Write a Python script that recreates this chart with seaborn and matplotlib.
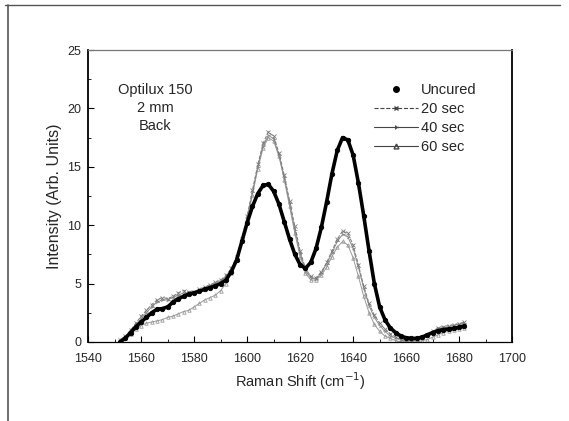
import matplotlib
matplotlib.use("Agg")
import matplotlib.pyplot as plt
from matplotlib.lines import Line2D
from matplotlib.ticker import MultipleLocator
import seaborn as sns
import pandas as pd

shift = [1552, 1554, 1556, 1558, 1560, 1562, 1564, 1566, 1568, 1570,
         1572, 1574, 1576, 1578, 1580, 1582, 1584, 1586, 1588, 1590,
         1592, 1594, 1596, 1598, 1600, 1602, 1604, 1606, 1608, 1610,
         1612, 1614, 1616, 1618, 1620, 1622, 1624, 1626, 1628, 1630,
         1632, 1634, 1636, 1638, 1640, 1642, 1644, 1646, 1648, 1650,
         1652, 1654, 1656, 1658, 1660, 1662, 1664, 1666, 1668, 1670,
         1672, 1674, 1676, 1678, 1680, 1682]

uncured = [0.0, 0.3, 0.8, 1.3, 1.7, 2.1, 2.5, 2.8, 2.85, 3.0,
           3.4, 3.7, 3.9, 4.1, 4.2, 4.35, 4.5, 4.65, 4.8, 5.0,
           5.3, 6.0, 7.0, 8.6, 10.2, 11.6, 12.7, 13.4, 13.5, 12.9,
           11.8, 10.3, 8.8, 7.5, 6.6, 6.3, 6.8, 8.0, 9.8, 12.0,
           14.4, 16.4, 17.5, 17.3, 16.0, 13.6, 10.8, 7.8, 5.0, 3.0,
           1.9, 1.2, 0.8, 0.5, 0.35, 0.3, 0.3, 0.4, 0.6, 0.8,
           0.95, 1.05, 1.1, 1.15, 1.25, 1.35]

sec20 = [0.2, 0.5, 1.0, 1.6, 2.2, 2.7, 3.2, 3.6, 3.8, 3.7,
         3.9, 4.2, 4.4, 4.3, 4.3, 4.5, 4.7, 4.9, 5.1, 5.3,
         5.7, 6.3, 7.3, 8.8, 10.8, 13.0, 15.2, 17.0, 18.0, 17.6,
         16.2, 14.3, 12.1, 9.9, 7.8, 6.3, 5.6, 5.5, 6.0, 6.8,
         7.8, 8.8, 9.5, 9.3, 8.3, 6.6, 4.8, 3.3, 2.3, 1.6,
         1.1, 0.7, 0.4, 0.25, 0.15, 0.1, 0.2, 0.4, 0.6, 0.9,
         1.2, 1.3, 1.4, 1.45, 1.55, 1.7]

sec40 = [0.1, 0.4, 0.9, 1.4, 2.0, 2.5, 3.0, 3.4, 3.6, 3.6,
         3.8, 4.0, 4.2, 4.2, 4.3, 4.4, 4.6, 4.8, 5.0, 5.2,
         5.6, 6.2, 7.2, 8.7, 10.6, 12.8, 15.0, 16.8, 17.7, 17.4,
         16.0, 14.1, 11.9, 9.6, 7.6, 6.1, 5.5, 5.4, 5.9, 6.7,
         7.6, 8.6, 9.2, 9.0, 8.0, 6.4, 4.6, 3.1, 2.1, 1.4,
         0.9, 0.5, 0.3, 0.2, 0.1, 0.1, 0.15, 0.3, 0.5, 0.8,
         1.1, 1.2, 1.3, 1.4, 1.5, 1.6]

sec60 = [0.0, 0.3, 0.7, 1.1, 1.4, 1.6, 1.7, 1.8, 1.9, 2.1,
         2.2, 2.4, 2.6, 2.7, 3.0, 3.3, 3.6, 3.8, 4.0, 4.4,
         5.0, 5.9, 7.0, 8.6, 10.5, 12.6, 14.8, 16.6, 17.5, 17.2,
         15.9, 13.9, 11.6, 9.3, 7.3, 5.9, 5.3, 5.3, 5.7, 6.4,
         7.3, 8.1, 8.6, 8.3, 7.2, 5.6, 3.9, 2.5, 1.5, 0.9,
         0.5, 0.3, 0.1, 0.0, 0.0, 0.0, 0.0, 0.1, 0.2, 0.4,
         0.6, 0.8, 0.9, 1.0, 1.1, 1.2]

series_names = ["Uncured", "20 sec", "40 sec", "60 sec"]
x_ticks = [1540, 1560, 1580, 1600, 1620, 1640, 1660, 1680, 1700]
y_ticks = [0, 5, 10, 15, 20, 25]
annotation = ["Optilux 150", "2 mm", "Back"]

sns.set_theme(style="ticks")
plt.rcParams["font.family"] = ["Liberation Sans", "DejaVu Sans"]

fig = plt.figure(figsize=(5.69, 4.21), dpi=100)
ax = fig.add_axes([0.155, 0.188, 0.745, 0.693])

styles = {
    "Uncured": dict(color="black", lw=2.6, marker="o", ms=3.2, ls="-"),
    "20 sec": dict(color="#7a7a7a", lw=0.7, marker="x", ms=2.5, ls="--"),
    "40 sec": dict(color="#8a8a8a", lw=0.7, marker="4", ms=3, ls="-"),
    "60 sec": dict(color="#9a9a9a", lw=0.7, marker="^", ms=2.5, ls="-", mfc="none"),
}
data = {"Uncured": uncured, "20 sec": sec20, "40 sec": sec40, "60 sec": sec60}

for name in ["60 sec", "40 sec", "20 sec", "Uncured"]:
    st = styles[name]
    df = pd.DataFrame({"shift": shift, "intensity": data[name]})
    sns.lineplot(data=df, x="shift", y="intensity", ax=ax, color=st["color"],
                 lw=st["lw"], ls=st["ls"], marker=st["marker"], ms=st["ms"],
                 mfc=st.get("mfc", st["color"]), mec=st["color"], mew=0.6,
                 zorder=3 if name == "Uncured" else 2)

ax.set_xlim(1540, 1700)
ax.set_ylim(0, 25)
ax.set_xticks(x_ticks)
ax.set_yticks(y_ticks)
ax.xaxis.set_minor_locator(MultipleLocator(10))
ax.yaxis.set_minor_locator(MultipleLocator(2.5))
ax.tick_params(which="both", direction="in", labelsize=9, color="black")
ax.tick_params(which="major", length=4, width=0.8)
ax.tick_params(which="minor", length=2.5, width=0.6)
ax.tick_params(axis="x", pad=8)
ax.tick_params(axis="y", pad=5)
for s in ax.spines.values():
    s.set_visible(True)
    s.set_linewidth(0.9)
    s.set_color("black")
ax.spines["top"].set_color("#777777")
ax.spines["right"].set_linewidth(1.3)
ax.spines["left"].set_linewidth(1.3)

ax.set_xlabel("Raman Shift (cm$^{-1}$)", fontsize=10.5, labelpad=4)
ax.set_ylabel("Intensity (Arb. Units)", fontsize=11.5, labelpad=4)

for i, t in enumerate(annotation):
    ax.text(0.158, 0.864 - i * 0.062, t, transform=ax.transAxes, ha="center",
            va="center", fontsize=10.5)

handles = []
for name in series_names:
    st = styles[name]
    if name == "Uncured":
        h = Line2D([], [], color="black", ls="none", marker="o", ms=4)
    else:
        h = Line2D([], [], color="#444444", lw=0.8, ls=st["ls"], marker=st["marker"],
                   ms=3.5, mfc=st.get("mfc", "#444444"), mec="#444444", markevery=[0])
    handles.append(h)
ax.legend(handles, series_names, loc="upper left", bbox_to_anchor=(0.643, 0.932),
          frameon=False, fontsize=10.5, handlelength=3.0, handletextpad=0.2,
          labelspacing=0.34, numpoints=1)

# scanned page frame
fig.add_artist(Line2D([0.009, 0.985], [0.988, 0.988], transform=fig.transFigure,
                      color="#555555", lw=1.0))
fig.add_artist(Line2D([0.014, 0.014], [0.0, 0.988], transform=fig.transFigure,
                      color="#555555", lw=1.2))

fig.savefig("out.png", dpi=100, facecolor="white")
